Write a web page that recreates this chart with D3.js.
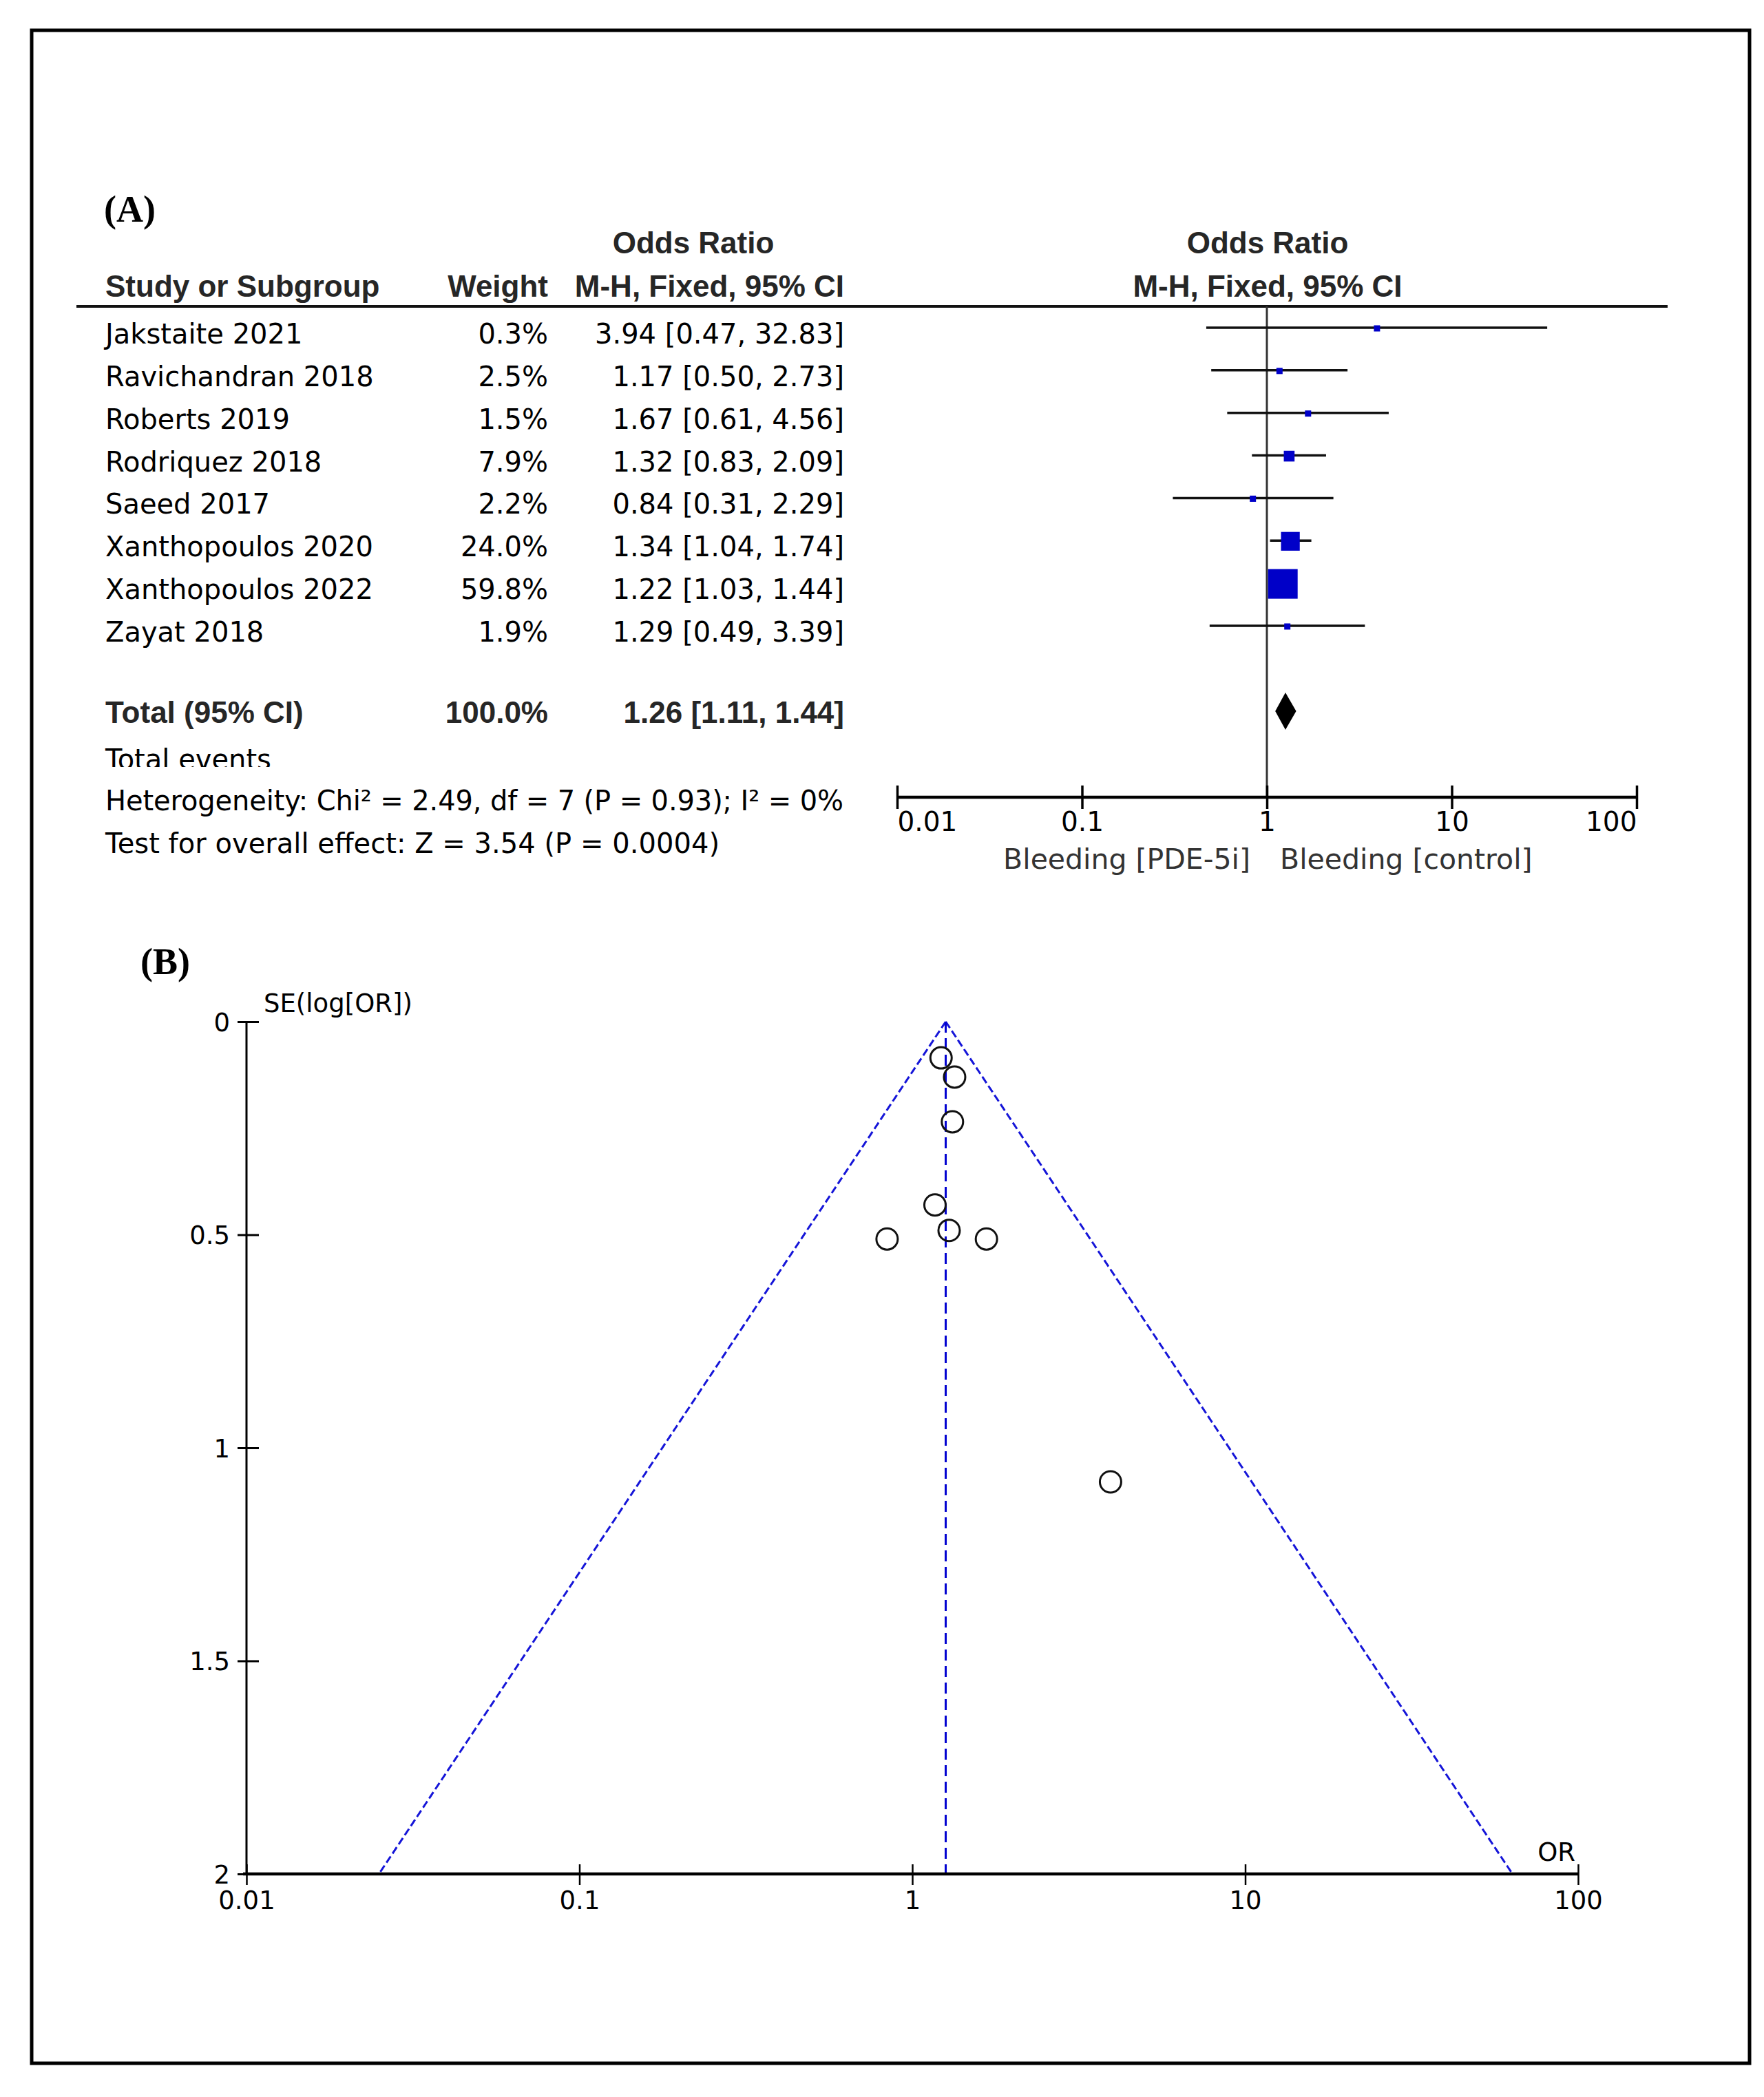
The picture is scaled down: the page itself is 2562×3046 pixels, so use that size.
<!DOCTYPE html>
<html>
<head>
<meta charset="utf-8">
<script src="https://cdn.jsdelivr.net/npm/d3@7"></script>
<style>
  html, body { margin: 0; padding: 0; background: #fff; }
  svg { display: block; }
</style>
</head>
<body>
<script>
// ---------------- data ----------------
const studies = ["Jakstaite 2021", "Ravichandran 2018", "Roberts 2019", "Rodriquez 2018",
                 "Saeed 2017", "Xanthopoulos 2020", "Xanthopoulos 2022", "Zayat 2018"];
const weights = [0.3, 2.5, 1.5, 7.9, 2.2, 24.0, 59.8, 1.9];
const oddsRatios = [3.94, 1.17, 1.67, 1.32, 0.84, 1.34, 1.22, 1.29];
const ciLower = [0.47, 0.50, 0.61, 0.83, 0.31, 1.04, 1.03, 0.49];
const ciUpper = [32.83, 2.73, 4.56, 2.09, 2.29, 1.74, 1.44, 3.39];
const seLogOR = [1.08, 0.43, 0.51, 0.235, 0.51, 0.13, 0.085, 0.49];
const totalLabel = "Total (95% CI)";
const totalWeight = 100.0;
const totalOR = 1.26, totalLower = 1.11, totalUpper = 1.44;
const totalEventsLabel = "Total events";
const heterogeneityText = "Heterogeneity: Chi\u00B2 = 2.49, df = 7 (P = 0.93); I\u00B2 = 0%";
const overallEffectText = "Test for overall effect: Z = 3.54 (P = 0.0004)";
const forestTicks = [0.01, 0.1, 1, 10, 100];
const favoursLeft = "Bleeding [PDE-5i]";
const favoursRight = "Bleeding [control]";
const funnelXTicks = [0.01, 0.1, 1, 10, 100];
const funnelYTicks = [0, 0.5, 1, 1.5, 2];

// ---------------- setup ----------------
const W = 2562, H = 3046;
const svg = d3.select("body").append("svg").attr("width", W).attr("height", H)
  .attr("viewBox", `0 0 ${W} ${H}`);
svg.append("rect").attr("width", W).attr("height", H).attr("fill", "#fff");

const REG = "'DejaVu Sans', 'Noto Sans', sans-serif";
const BOLD = "'Liberation Sans', Arial, sans-serif";
const SERIF = "'Liberation Serif', 'Times New Roman', serif";
const tickFmt = d => (d < 1 ? String(d) : d3.format("d")(d));

// outer frame
svg.append("rect").attr("x", 46).attr("y", 44).attr("width", 2495).attr("height", 2953)
  .attr("fill", "none").attr("stroke", "#000").attr("stroke-width", 5);

// ================= (A) forest plot =================
const A = svg.append("g");
A.append("text").attr("x", 151).attr("y", 322).attr("font-family", SERIF)
  .attr("font-weight", "bold").attr("font-size", 54).attr("fill", "#000").text("(A)");

const hdr = (x, y, t, anchor) => A.append("text").attr("x", x).attr("y", y)
  .attr("font-family", BOLD).attr("font-weight", "bold").attr("font-size", 44)
  .attr("fill", "#262626").attr("text-anchor", anchor).text(t);
hdr(1007, 368, "Odds Ratio", "middle");
hdr(153, 431, "Study or Subgroup", "start");
hdr(796, 431, "Weight", "end");
hdr(1226, 431, "M-H, Fixed, 95% CI", "end");
hdr(1841, 368, "Odds Ratio", "middle");
hdr(1841, 431, "M-H, Fixed, 95% CI", "middle");

// header rule
A.append("line").attr("x1", 111).attr("x2", 2422).attr("y1", 445).attr("y2", 445)
  .attr("stroke", "#111").attr("stroke-width", 4);

const xF = d3.scaleLog().domain([0.01, 100]).range([1303, 2377]);
const yRow = d3.scalePoint().domain(studies).range([499, 932]);
const axisY = 1158;

// null line
A.append("line").attr("x1", xF(1)).attr("x2", xF(1)).attr("y1", 445).attr("y2", axisY)
  .attr("stroke", "#333").attr("stroke-width", 3);

const rows = studies.map((s, i) => ({
  study: s, w: weights[i], or: oddsRatios[i], lo: ciLower[i], hi: ciUpper[i]
}));
const f2 = d3.format(".2f"), f1 = d3.format(".1f");

const rg = A.selectAll("g.row").data(rows).join("g").attr("class", "row");
rg.append("text").attr("x", 153).attr("y", d => yRow(d.study))
  .attr("font-family", REG).attr("font-size", 40).attr("fill", "#000").text(d => d.study);
rg.append("text").attr("x", 796).attr("y", d => yRow(d.study)).attr("text-anchor", "end")
  .attr("font-family", REG).attr("font-size", 40).attr("fill", "#000").text(d => f1(d.w) + "%");
rg.append("text").attr("x", 1226).attr("y", d => yRow(d.study)).attr("text-anchor", "end")
  .attr("font-family", REG).attr("font-size", 40).attr("fill", "#000")
  .text(d => `${f2(d.or)} [${f2(d.lo)}, ${f2(d.hi)}]`);

// CI lines
rg.append("line").attr("x1", d => xF(d.lo)).attr("x2", d => xF(d.hi))
  .attr("y1", d => yRow(d.study) - 23).attr("y2", d => yRow(d.study) - 23)
  .attr("stroke", "#111").attr("stroke-width", 3.5);
// weight squares
const sq = d3.scaleSqrt().domain([0, 59.8]).range([0, 43]);
const side = w => Math.max(9, sq(w));
rg.append("rect")
  .attr("x", d => xF(d.or) - side(d.w) / 2)
  .attr("y", d => yRow(d.study) - 22 - side(d.w) / 2)
  .attr("width", d => side(d.w))
  .attr("height", d => side(d.w))
  .attr("fill", "#0000c8");

// total row
const totY = 1050;
A.append("text").attr("x", 153).attr("y", totY).attr("font-family", BOLD).attr("font-weight", "bold")
  .attr("font-size", 44).attr("fill", "#262626").text(totalLabel);
A.append("text").attr("x", 796).attr("y", totY).attr("text-anchor", "end").attr("font-family", BOLD)
  .attr("font-weight", "bold").attr("font-size", 44).attr("fill", "#262626").text(f1(totalWeight) + "%");
A.append("text").attr("x", 1226).attr("y", totY).attr("text-anchor", "end").attr("font-family", BOLD)
  .attr("font-weight", "bold").attr("font-size", 44).attr("fill", "#262626")
  .text(`${f2(totalOR)} [${f2(totalLower)}, ${f2(totalUpper)}]`);
const dy = totY - 17;
A.append("path")
  .attr("d", `M${xF(totalLower)},${dy} L${xF(totalOR)},${dy - 27} L${xF(totalUpper)},${dy} L${xF(totalOR)},${dy + 27} Z`)
  .attr("fill", "#000");

// footer texts
svg.append("defs").append("clipPath").attr("id", "clipTE")
  .append("rect").attr("x", 100).attr("y", 1060).attr("width", 800).attr("height", 54);
A.append("text").attr("x", 153).attr("y", 1117).attr("clip-path", "url(#clipTE)")
  .attr("font-family", REG).attr("font-size", 40).attr("fill", "#000").text(totalEventsLabel);
A.append("text").attr("x", 153).attr("y", 1177).attr("font-family", REG).attr("font-size", 40)
  .attr("fill", "#000").attr("textLength", 1072).attr("lengthAdjust", "spacing").text(heterogeneityText);
A.append("text").attr("x", 153).attr("y", 1239).attr("font-family", REG).attr("font-size", 40)
  .attr("fill", "#000").attr("textLength", 892).attr("lengthAdjust", "spacing").text(overallEffectText);

// forest axis
const axF = A.append("g").attr("transform", `translate(0,${axisY})`)
  .call(d3.axisBottom(xF).tickValues(forestTicks).tickFormat(tickFmt).tickSize(17).tickSizeOuter(0));
axF.select(".domain").attr("stroke", "#000").attr("stroke-width", 4.5)
  .attr("d", `M${xF(0.01)},0H${xF(100)}`);
axF.selectAll(".tick line").attr("y1", -17).attr("y2", 17).attr("stroke", "#000").attr("stroke-width", 3.5);
axF.selectAll(".tick text").attr("y", 49).attr("dy", 0).attr("font-family", REG).attr("font-size", 39)
  .attr("fill", "#000")
  .attr("text-anchor", (d, i) => i === 0 ? "start" : (i === forestTicks.length - 1 ? "end" : "middle"));
A.append("text").attr("x", 1816).attr("y", 1262).attr("text-anchor", "end").attr("font-family", REG)
  .attr("font-size", 41).attr("fill", "#333").text(favoursLeft);
A.append("text").attr("x", 1859).attr("y", 1262).attr("font-family", REG)
  .attr("font-size", 41).attr("fill", "#333").text(favoursRight);

// ================= (B) funnel plot =================
const B = svg.append("g");
B.append("text").attr("x", 204).attr("y", 1415).attr("font-family", SERIF)
  .attr("font-weight", "bold").attr("font-size", 54).attr("fill", "#000").text("(B)");

const xU = d3.scaleLog().domain([0.01, 100]).range([358, 2292]);
const yU = d3.scaleLinear().domain([0, 2]).range([1484, 2722]);

// funnel (pseudo 95% CI) lines
const seLine = [0, 2];
const line = d3.line().x(d => xU(d[0])).y(d => yU(d[1]));
B.append("path").attr("d", line(seLine.map(s => [totalOR * Math.exp(-1.96 * s), s])))
  .attr("fill", "none").attr("stroke", "#1515d8").attr("stroke-width", 3).attr("stroke-dasharray", "11,5");
B.append("path").attr("d", line(seLine.map(s => [totalOR * Math.exp(1.96 * s), s])))
  .attr("fill", "none").attr("stroke", "#1515d8").attr("stroke-width", 3).attr("stroke-dasharray", "11,5");
B.append("path").attr("d", line(seLine.map(s => [totalOR, s])))
  .attr("fill", "none").attr("stroke", "#0000d0").attr("stroke-width", 3).attr("stroke-dasharray", "16,8");

// y axis
const axY = B.append("g").attr("transform", `translate(358,0)`)
  .call(d3.axisLeft(yU).tickValues(funnelYTicks).tickFormat(d3.format("")).tickSize(12).tickSizeOuter(0));
axY.select(".domain").attr("stroke", "#000").attr("stroke-width", 3)
  .attr("d", `M0,${yU(0)}V${yU(2)}`);
axY.selectAll(".tick line").attr("x1", -13).attr("x2", 18).attr("stroke", "#000").attr("stroke-width", 3);
axY.selectAll(".tick text").attr("x", -24).attr("dy", "0.36em").attr("font-family", REG)
  .attr("font-size", 37).attr("fill", "#000");
B.append("text").attr("x", 383).attr("y", 1470).attr("font-family", REG).attr("font-size", 37)
  .attr("fill", "#000").text("SE(log[OR])");

// x axis
const axX = B.append("g").attr("transform", `translate(0,${yU(2)})`)
  .call(d3.axisBottom(xU).tickValues(funnelXTicks).tickFormat(tickFmt).tickSize(16).tickSizeOuter(0));
axX.select(".domain").attr("stroke", "#000").attr("stroke-width", 4.5)
  .attr("d", `M${xU(0.01) - 5},0H${xU(100)}`);
axX.selectAll(".tick line").attr("y1", -14).attr("y2", 16).attr("stroke", "#000").attr("stroke-width", 2.5);
axX.selectAll(".tick text").attr("y", 51).attr("dy", 0).attr("font-family", REG).attr("font-size", 37)
  .attr("fill", "#000");
B.append("text").attr("x", 2288).attr("y", 2703).attr("text-anchor", "end").attr("font-family", REG)
  .attr("font-size", 37).attr("fill", "#000").text("OR");

// study points
B.selectAll("circle.pt").data(rows.map((d, i) => ({ or: d.or, se: seLogOR[i] })))
  .join("circle").attr("class", "pt")
  .attr("cx", d => xU(d.or)).attr("cy", d => yU(d.se)).attr("r", 15.5)
  .attr("fill", "none").attr("stroke", "#111").attr("stroke-width", 3);
</script>
</body>
</html>
